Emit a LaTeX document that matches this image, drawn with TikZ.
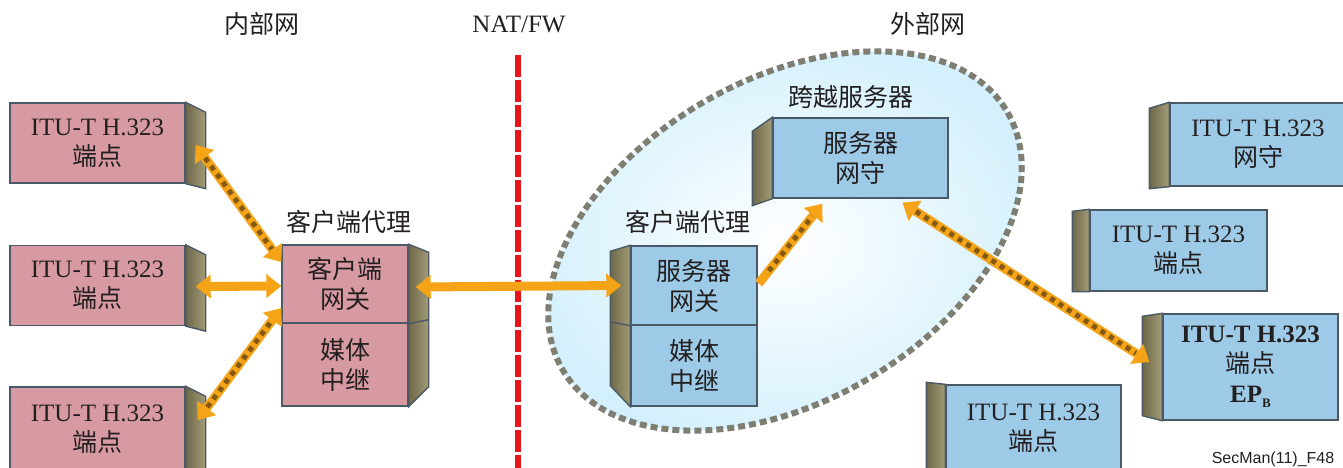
\documentclass[tikz,border=0pt]{standalone}
\usepackage{fontspec}
\setmainfont{Liberation Serif}
\newfontfamily\cjk{Noto Sans CJK SC}
\newfontfamily\arialf{Liberation Sans}
\usetikzlibrary{arrows.meta,calc}
\definecolor{pinkf}{HTML}{D79AA3}
\definecolor{bluef}{HTML}{9DCBE7}
\definecolor{edgec}{HTML}{4B5966}
\definecolor{sideA}{HTML}{6E6849}
\definecolor{sideB}{HTML}{A29C78}
\definecolor{arrowc}{HTML}{F5A418}
\definecolor{checkc}{HTML}{3A2A10}
\definecolor{fwred}{HTML}{E8151D}
\definecolor{ellfill}{HTML}{D3F0FC}
\definecolor{ellline}{HTML}{7E7E72}
\definecolor{txt}{HTML}{231F20}
\newcommand\sideR[4]{\path[sideface] (#1.north east) -- ++(#2,#3) -- ($(#1.south east)+(#2,#4)$) -- (#1.south east) -- cycle;}
\newcommand\sideL[4]{\path[sideface] (#1.north west) -- ++(-#2,#3) -- ($(#1.south west)+(-#2,#4)$) -- (#1.south west) -- cycle;}
\begin{document}
\begin{tikzpicture}[x=1pt,y=-1pt,
  front/.style={draw=edgec, line width=1.4pt, inner sep=0pt, align=center, text=txt,
    font=\fontsize{25}{30}\selectfont},
  pinkbox/.style={front, fill=pinkf},
  bluebox/.style={front, fill=bluef},
  sideface/.style={draw=edgec, line width=1.4pt, left color=sideA, right color=sideB},
  lbl/.style={text=txt, inner sep=0pt, font=\fontsize{25}{30}\selectfont\cjk},
  media/.style={draw=arrowc, line width=9pt,
    {Triangle[width=23pt,length=15pt]}-{Triangle[width=23pt,length=15pt]}},
  checks/.style={postaction={draw=checkc, -, line width=5pt, dash pattern=on 5pt off 5pt,
    draw opacity=0.6, shorten >=16pt, shorten <=16pt}},
  signal/.style={media, checks},
  signalone/.style={draw=arrowc, line width=9pt, -{Triangle[width=23pt,length=15pt]}, checks}
]
\useasboundingbox (0,0) rectangle (1343,468);
\clip (0,0) rectangle (1343,468);

% outer network cloud (ellipse)
\shade[rotate around={30:(785,241)}, inner color=white, outer color=ellfill] (785,241) ellipse (257 and 161);
\draw[rotate around={30:(785,241)}, ellline, line width=6pt, dash pattern=on 7pt off 4pt] (785,241) ellipse (257 and 161);

% firewall line
\coordinate (fwtop) at (518,55);
\coordinate (fwbot) at (518,470);
\draw[fwred, line width=6pt, dash pattern=on 22pt off 3pt] (fwtop) -- (fwbot);

% headings
\node[lbl] (hin) at (262,24) {内部网};
\node[text=txt, inner sep=0pt, font=\fontsize{25}{30}\selectfont] (hnat) at (519,24) {NAT/FW};
\node[lbl] (hout) at (928,24) {外部网};

% left endpoints
\node[pinkbox, minimum width=175pt, minimum height=80pt] (ep1) at (97.5,143) {ITU-T H.323\\{\cjk 端点}};
\node[pinkbox, minimum width=175pt, minimum height=80pt] (ep2) at (97.5,285.5) {ITU-T H.323\\{\cjk 端点}};
\node[pinkbox, minimum width=175pt, minimum height=84pt] (ep3) at (97.5,429) {ITU-T H.323\\{\cjk 端点}};
\sideR{ep1}{20}{10}{5}
\sideR{ep2}{20}{10}{5}
\sideR{ep3}{20}{10}{5}

% client proxy
\node[lbl] (pxLlbl) at (349,222) {客户端代理};
\node[pinkbox, minimum width=126pt, minimum height=78pt] (gwL) at (345,284) {{\cjk 客户端}\\{\cjk 网关}};
\node[pinkbox, minimum width=126pt, minimum height=83pt] (mrL) at (345,364.5) {{\cjk 媒体}\\{\cjk 中继}};
\path[sideface] (gwL.north east) -- ++(20,8) -- ($(mrL.south east)+(20,-20)$) -- (mrL.south east) -- cycle;
\draw[edgec, line width=1.4pt] (gwL.south east) -- ++(20,-4);

% server proxy
\node[lbl] (pxRlbl) at (688,222) {客户端代理};
\node[bluebox, minimum width=126pt, minimum height=79pt] (gwR) at (694,285.5) {{\cjk 服务器}\\{\cjk 网关}};
\node[bluebox, minimum width=126pt, minimum height=81pt] (mrR) at (694,365.5) {{\cjk 媒体}\\{\cjk 中继}};
\path[sideface] (gwR.north west) -- ++(-20,6) -- ($(mrR.south west)+(-20,-21)$) -- (mrR.south west) -- cycle;
\draw[edgec, line width=1.4pt] (gwR.south west) -- ++(-20,-4);

% traversal server
\node[lbl] (tslbl) at (851,97) {跨越服务器};
\node[bluebox, minimum width=175pt, minimum height=80pt] (sgk) at (860.5,158) {{\cjk 服务器}\\{\cjk 网守}};
\sideL{sgk}{20}{14}{7}

% right side
\node[bluebox, minimum width=176pt, minimum height=83pt] (gk) at (1258,144.5) {ITU-T H.323\\{\cjk 网守}};
\sideL{gk}{20}{6}{2}
\node[bluebox, minimum width=177pt, minimum height=81pt] (epm) at (1178.5,250.5) {ITU-T H.323\\{\cjk 端点}};
\sideL{epm}{17}{2}{0}
\node[bluebox, minimum width=175pt, minimum height=106pt] (epB) at (1250.5,367)
  {\textbf{ITU-T H.323}\\{\cjk 端点}\\\textbf{EP}\raisebox{-5pt}{\fontsize{13}{13}\selectfont\bfseries B}};
\sideL{epB}{20}{3}{-5}
\node[bluebox, minimum width=175pt, minimum height=86pt] (epd) at (1033.5,428) {ITU-T H.323\\{\cjk 端点}};
\sideL{epd}{19}{-2}{0}

\node[text=txt, inner sep=0pt, font=\fontsize{16}{16}\selectfont\arialf] (fig) at (1273,459) {SecMan(11)\_F48};

% connectors
\draw[signal] ($(ep1.east)+(10,2)$) -- ($(gwL.west)+(0,-22)$);
\draw[media] ($(ep2.east)+(10,1)$) -- ($(gwL.west)+(0,2)$);
\draw[signal] ($(ep3.east)+(12,-9)$) -- ($(gwL.west)+(0,24)$);
\draw[media] ($(gwL.east)+(7,3)$) -- ($(gwR.west)+(-9,0)$);
\draw[signalone] ($(gwR.east)+(1,-2)$) -- ($(sgk.south)+(-38,5)$);
\draw[signal] ($(sgk.south)+(42,4)$) -- ($(epB.west)+(-13,-5)$);
\end{tikzpicture}
\end{document}
